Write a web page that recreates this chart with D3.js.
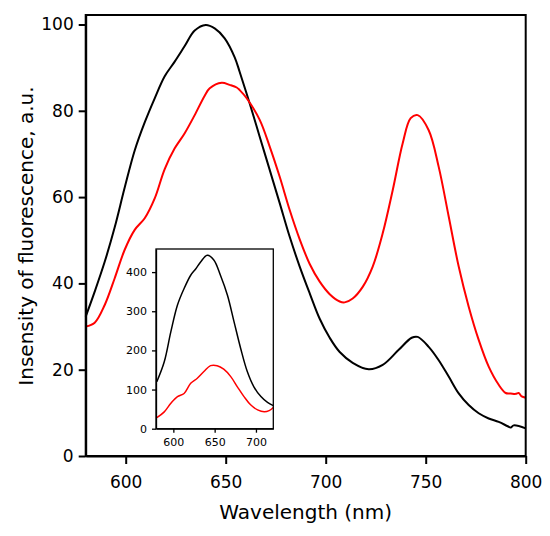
<!DOCTYPE html>
<html>
<head>
<meta charset="utf-8">
<script src="https://cdn.jsdelivr.net/npm/d3@7"></script>
<style>
    body { margin: 0; background: #fff; }
    svg { display: block; }
    .axis path, .axis line { stroke: #000; }
    .axis text { fill: #000; font-family: "DejaVu Sans", sans-serif; }
    .title { font-family: "DejaVu Sans", sans-serif; font-size: 20px; fill: #000; }
</style>
</head>
<body>
<div id="chart"></div>
<script>
// Main spectra (wavelength nm, intensity a.u.)
const mainWavelengthBlack = [580, 584.5, 589.5, 594.5, 599.5, 604.5, 609.5, 614.5, 619.5, 624.5, 629.5, 634.5, 640, 644.5, 649.5, 654.5, 657, 662, 667, 672, 677, 682, 687, 692, 697, 702, 707, 713.5, 721.5, 728.5, 736.5, 743, 746, 751.5, 756.5, 761.5, 766.5, 771.5, 776.5, 781.5, 786.5, 791, 792.5, 794, 800];
const mainBlack = [32.3, 38.1, 45.0, 53.0, 62.2, 70.8, 77.3, 82.9, 88.0, 91.4, 95.0, 98.6, 99.9, 99.1, 96.8, 92.4, 89.0, 81.7, 74.0, 66.3, 58.6, 50.8, 43.9, 37.7, 31.8, 27.4, 24.1, 21.6, 20.1, 21.1, 24.6, 27.4, 27.6, 25.3, 22.2, 18.4, 14.5, 11.8, 9.9, 8.7, 7.9, 6.9, 6.6, 7.1, 6.4];

const mainWavelengthRed = [580, 584.5, 589.5, 594.5, 599.5, 604.5, 609.5, 614.5, 619.5, 624.5, 629.5, 634.5, 639.5, 642, 648, 652, 655.5, 657, 660.5, 667, 672, 677, 682, 687, 692, 697, 702, 707, 709.5, 713.5, 718.5, 723.5, 728.5, 733.5, 738.5, 742.5, 746, 751.5, 756.5, 761.5, 766.5, 771.5, 776.5, 781.5, 786.5, 790, 792.5, 795, 796.5, 798, 800];
const mainRed = [30.0, 30.9, 35.0, 41.2, 47.8, 52.4, 55.1, 59.7, 66.5, 71.3, 74.8, 79.0, 83.5, 85.2, 86.5, 86.0, 85.4, 84.8, 82.9, 77.9, 71.7, 64.7, 57.0, 50.2, 44.5, 40.4, 37.5, 35.8, 35.6, 36.5, 39.2, 43.9, 51.6, 61.6, 72.5, 78.3, 79.0, 75.5, 67.0, 55.5, 43.9, 34.6, 26.9, 20.7, 16.5, 14.6, 14.5, 14.4, 14.6, 13.8, 13.5];

// Inset spectra
const insetWavelengthBlack = [580, 589, 597, 605, 613, 621, 627, 633, 641, 649, 657, 665.5, 673.5, 681.5, 689.5, 697.5, 706, 714, 721];
const insetBlack = [120, 171, 248, 316, 358, 392, 408, 426, 443, 431, 392, 341, 273, 205, 146, 107, 82, 67, 59];
const insetWavelengthRed = [580, 589, 597, 605, 613, 621, 629, 637, 645, 653, 661, 669.5, 677.5, 685.5, 693.5, 702, 710, 716, 721];
const insetRed = [28, 43, 65, 82, 90, 116, 129, 146, 161, 161, 152, 133, 107, 82, 61, 48, 43, 46, 54];

// Tick labels
const mainXTicks = [600, 650, 700, 750, 800];
const mainYTicks = [0, 20, 40, 60, 80, 100];
const insetXTicks = [600, 650, 700];
const insetYTicks = [0, 100, 200, 300, 400];

const xLabel = 'Wavelength (nm)';
const yLabel = 'Insensity of fluorescence, a.u.';

const width = 550, height = 536;
const main = { left: 85.7, right: 525.7, top: 15, bottom: 456 };
const inset = { left: 156, right: 273.3, top: 249, bottom: 428.7 };

const zip = (xs, ys) => xs.map((x, i) => ({ x: x, y: ys[i] }));

const svg = d3.select('#chart')
    .append('svg')
    .attr('width', width)
    .attr('height', height);

// Scales
const x = d3.scaleLinear().domain([580, 800]).range([main.left, main.right]);
const y = d3.scaleLinear().domain([0, 102.2]).range([main.bottom, main.top]);

const line = d3.line()
    .x(d => x(d.x))
    .y(d => y(d.y))
    .curve(d3.curveCatmullRom.alpha(0.5));

// Spectra
svg.append('path')
    .datum(zip(mainWavelengthBlack, mainBlack))
    .attr('fill', 'none')
    .attr('stroke', '#000')
    .attr('stroke-width', 2)
    .attr('d', line);

svg.append('path')
    .datum(zip(mainWavelengthRed, mainRed))
    .attr('fill', 'none')
    .attr('stroke', '#ff0000')
    .attr('stroke-width', 2)
    .attr('d', line);

// Frame
svg.append('rect')
    .attr('x', main.left)
    .attr('y', main.top)
    .attr('width', main.right - main.left)
    .attr('height', main.bottom - main.top)
    .attr('fill', 'none')
    .attr('stroke', '#000')
    .attr('stroke-width', 2);

// Axes
const xAxis = svg.append('g')
    .attr('class', 'axis')
    .attr('transform', `translate(0,${main.bottom})`)
    .call(d3.axisBottom(x).tickValues(mainXTicks).tickSize(8).tickSizeOuter(0).tickPadding(12));
xAxis.select('.domain').attr('stroke-width', 2);
xAxis.selectAll('line').attr('stroke-width', 2);
xAxis.selectAll('text').style('font-size', '17px');

const yAxis = svg.append('g')
    .attr('class', 'axis')
    .attr('transform', `translate(${main.left},0)`)
    .call(d3.axisLeft(y).tickValues(mainYTicks).tickSize(7).tickSizeOuter(0).tickPadding(5));
yAxis.select('.domain').attr('stroke-width', 2);
yAxis.selectAll('line').attr('stroke-width', 2);
yAxis.selectAll('text').style('font-size', '17px');

// Titles
svg.append('text')
    .attr('class', 'title')
    .attr('x', (main.left + main.right) / 2)
    .attr('y', 519)
    .attr('text-anchor', 'middle')
    .text(xLabel);

svg.append('text')
    .attr('class', 'title')
    .attr('transform', 'translate(33,236) rotate(-90)')
    .attr('text-anchor', 'middle')
    .text(yLabel);

// Inset
const xi = d3.scaleLinear().domain([579, 721]).range([inset.left, inset.right]);
const yi = d3.scaleLinear().domain([0, 459]).range([inset.bottom, inset.top]);

const lineInset = d3.line()
    .x(d => xi(d.x))
    .y(d => yi(d.y))
    .curve(d3.curveCatmullRom.alpha(0.5));

svg.append('rect')
    .attr('x', inset.left)
    .attr('y', inset.top)
    .attr('width', inset.right - inset.left)
    .attr('height', inset.bottom - inset.top)
    .attr('fill', '#fff');

svg.append('path')
    .datum(zip(insetWavelengthBlack, insetBlack))
    .attr('fill', 'none')
    .attr('stroke', '#000')
    .attr('stroke-width', 1.5)
    .attr('d', lineInset);

svg.append('path')
    .datum(zip(insetWavelengthRed, insetRed))
    .attr('fill', 'none')
    .attr('stroke', '#ff0000')
    .attr('stroke-width', 1.5)
    .attr('d', lineInset);

svg.append('rect')
    .attr('x', inset.left)
    .attr('y', inset.top)
    .attr('width', inset.right - inset.left)
    .attr('height', inset.bottom - inset.top)
    .attr('fill', 'none')
    .attr('stroke', '#000')
    .attr('stroke-width', 1.3);

const xiAxis = svg.append('g')
    .attr('class', 'axis')
    .attr('transform', `translate(0,${inset.bottom})`)
    .call(d3.axisBottom(xi).tickValues(insetXTicks).tickSize(4).tickSizeOuter(0).tickPadding(6));
xiAxis.selectAll('line, .domain').attr('stroke-width', 1.3);
xiAxis.selectAll('text').style('font-size', '11px');

const yiAxis = svg.append('g')
    .attr('class', 'axis')
    .attr('transform', `translate(${inset.left},0)`)
    .call(d3.axisLeft(yi).tickValues(insetYTicks).tickSize(4).tickSizeOuter(0).tickPadding(5));
yiAxis.selectAll('line, .domain').attr('stroke-width', 1.3);
yiAxis.selectAll('text').style('font-size', '11px');
</script>
</body>
</html>
